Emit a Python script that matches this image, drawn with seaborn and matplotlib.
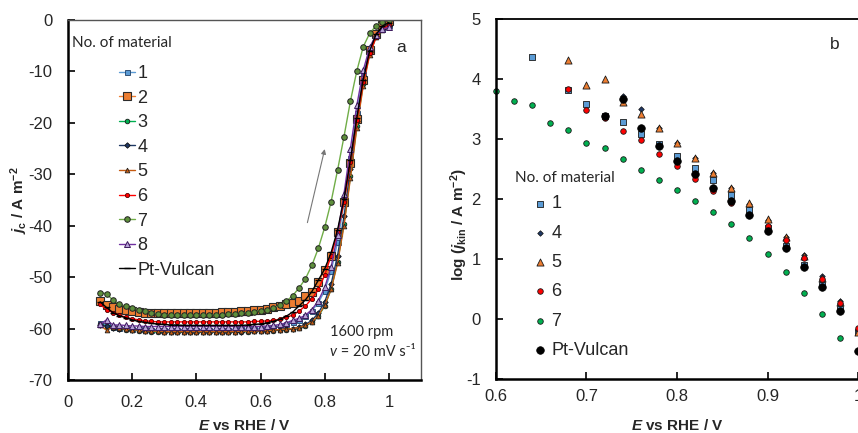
import numpy as np
import pandas as pd
import matplotlib
matplotlib.use("Agg")
import matplotlib.pyplot as plt
import seaborn as sns

# ---------------- data: panel a (LSV curves) ----------------
E_a = [0.10, 0.12, 0.14, 0.16, 0.18, 0.20, 0.22, 0.24, 0.26, 0.28,
       0.30, 0.32, 0.34, 0.36, 0.38, 0.40, 0.42, 0.44, 0.46, 0.48,
       0.50, 0.52, 0.54, 0.56, 0.58, 0.60, 0.62, 0.64, 0.66, 0.68,
       0.70, 0.72, 0.74, 0.76, 0.78, 0.80, 0.82, 0.84, 0.86, 0.88,
       0.90, 0.92, 0.94, 0.96, 0.98, 1.00]

j_1 = [-59.0, -59.3, -59.6, -59.8, -59.9, -60.0, -60.1, -60.1, -60.2, -60.2,
       -60.2, -60.2, -60.2, -60.2, -60.2, -60.2, -60.2, -60.2, -60.2, -60.2,
       -60.2, -60.1, -60.1, -60.1, -60.0, -60.0, -59.9, -59.7, -59.5, -59.2,
       -58.8, -58.3, -57.6, -56.5, -55.0, -52.6, -48.8, -43.2, -35.6, -26.8,
       -18.0, -10.8, -5.8, -3.0, -1.7, -1.0]
j_2 = [-54.6, -55.4, -55.9, -56.2, -56.4, -56.6, -56.8, -56.9, -57.0, -57.0,
       -57.0, -57.0, -57.0, -57.0, -57.0, -56.9, -56.9, -56.9, -56.9, -56.8,
       -56.8, -56.7, -56.6, -56.5, -56.4, -56.3, -56.1, -55.9, -55.6, -55.3,
       -55.0, -54.6, -53.7, -52.8, -51.0, -48.7, -45.8, -41.3, -35.4, -27.9,
       -19.2, -11.7, -5.9, -2.7, -0.9, -0.2]
j_3 = [-59.1, -59.6, -59.9, -60.1, -60.2, -60.3, -60.4, -60.5, -60.6, -60.7,
       -60.7, -60.7, -60.7, -60.7, -60.7, -60.7, -60.7, -60.7, -60.7, -60.7,
       -60.7, -60.7, -60.6, -60.6, -60.5, -60.5, -60.4, -60.4, -60.3, -60.2,
       -60.1, -59.9, -59.5, -58.8, -57.6, -55.6, -52.3, -47.0, -39.6, -30.4,
       -20.6, -12.4, -6.5, -3.3, -1.8, -1.1]
j_4 = [-59.3, -59.5, -59.8, -60.0, -60.1, -60.2, -60.3, -60.4, -60.5, -60.5,
       -60.6, -60.6, -60.6, -60.6, -60.6, -60.6, -60.6, -60.6, -60.6, -60.6,
       -60.6, -60.6, -60.6, -60.5, -60.5, -60.4, -60.4, -60.3, -60.2, -60.1,
       -60.0, -59.7, -59.2, -58.4, -57.0, -54.8, -51.3, -45.8, -38.2, -29.0,
       -19.6, -11.6, -6.2, -3.2, -1.8, -1.1]
j_5 = [-59.4, -60.3, -59.7, -59.9, -60.1, -60.2, -60.3, -60.4, -60.5, -60.5,
       -60.6, -60.6, -60.6, -60.6, -60.6, -60.6, -60.6, -60.6, -60.6, -60.6,
       -60.6, -60.6, -60.5, -60.5, -60.5, -60.4, -60.4, -60.3, -60.2, -60.1,
       -60.0, -59.8, -59.4, -58.7, -57.5, -55.5, -52.4, -47.3, -40.0, -30.8,
       -21.0, -12.8, -6.8, -3.4, -1.9, -1.2]
j_6 = [-55.3, -56.3, -56.9, -57.4, -57.8, -58.1, -58.3, -58.5, -58.6, -58.7,
       -58.7, -58.7, -58.7, -58.7, -58.7, -58.7, -58.7, -58.7, -58.7, -58.7,
       -58.7, -58.7, -58.7, -58.7, -58.6, -58.6, -58.5, -58.4, -58.2, -57.8,
       -57.4, -56.6, -55.6, -54.2, -52.4, -49.6, -45.8, -41.3, -35.4, -27.6,
       -19.4, -12.0, -6.5, -3.3, -1.8, -1.0]
j_7 = [-53.0, -53.2, -54.5, -55.2, -55.7, -56.0, -56.3, -56.6, -56.9, -57.1,
       -57.3, -57.4, -57.4, -57.4, -57.4, -57.4, -57.4, -57.4, -57.3, -57.3,
       -57.2, -57.1, -57.0, -56.9, -56.7, -56.5, -56.3, -56.0, -55.5, -54.7,
       -53.6, -52.1, -50.3, -47.7, -44.4, -40.3, -35.3, -29.2, -22.7, -15.8,
       -9.9, -5.2, -2.6, -1.1, -0.3, 0.0]
j_8 = [-59.2, -58.3, -59.3, -59.3, -59.4, -59.5, -59.5, -59.6, -59.6, -59.6,
       -59.6, -59.6, -59.6, -59.6, -59.6, -59.6, -59.6, -59.6, -59.6, -59.6,
       -59.6, -59.6, -59.6, -59.6, -59.6, -59.6, -59.5, -59.4, -59.2, -58.9,
       -58.4, -58.0, -57.4, -56.3, -54.6, -52.0, -48.0, -41.8, -33.8, -25.0,
       -16.6, -9.8, -5.3, -2.9, -1.8, -1.4]
j_pt = [-54.8, -55.9, -56.9, -57.5, -57.9, -58.3, -58.6, -58.8, -59.0, -59.1,
        -59.2, -59.3, -59.3, -59.4, -59.4, -59.4, -59.4, -59.4, -59.4, -59.4,
        -59.4, -59.4, -59.4, -59.3, -59.2, -59.1, -58.9, -58.6, -58.2, -57.6,
        -56.8, -55.6, -54.4, -52.8, -50.6, -48.4, -45.2, -40.8, -34.8, -27.2,
        -19.0, -11.6, -6.0, -2.8, -1.2, -0.5]

series_a = ["1", "2", "3", "4", "5", "6", "7", "8", "Pt-Vulcan"]
values_a = [j_1, j_2, j_3, j_4, j_5, j_6, j_7, j_8, j_pt]

# ---------------- data: panel b (log j_kin) ----------------
nan = np.nan
E_b = [0.60, 0.62, 0.64, 0.66, 0.68, 0.70, 0.72, 0.74, 0.76, 0.78,
       0.80, 0.82, 0.84, 0.86, 0.88, 0.90, 0.92, 0.94, 0.96, 0.98, 1.00]
L_1 = [nan, nan, 4.36, nan, 3.81, 3.58, 3.38, 3.28, 3.08, 2.92,
       2.72, 2.51, 2.31, 2.07, 1.82, 1.51, 1.22, 0.90, 0.57, 0.17, -0.22]
L_4 = [nan, nan, nan, nan, nan, nan, nan, 3.72, 3.50, 3.18,
       2.93, 2.68, 2.43, 2.18, 1.92, 1.65, 1.37, 1.06, 0.71, 0.30, -0.18]
L_5 = [nan, nan, nan, nan, 4.31, 3.90, 4.00, 3.61, 3.41, 3.18,
       2.94, 2.69, 2.44, 2.19, 1.93, 1.66, 1.36, 1.05, 0.68, 0.29, -0.21]
L_6 = [nan, nan, nan, nan, 3.84, 3.48, 3.35, 3.14, 2.98, 2.75,
       2.55, 2.33, 2.14, 1.94, 1.74, 1.55, 1.32, 1.01, 0.66, 0.27, -0.15]
L_7 = [3.80, 3.64, 3.57, 3.26, 3.15, 2.94, 2.85, 2.66, 2.49, 2.31,
       2.15, 1.97, 1.79, 1.58, 1.35, 1.09, 0.78, 0.44, 0.08, -0.31, nan]
L_pt = [nan, nan, nan, nan, nan, nan, 3.38, 3.67, 3.18, 2.89,
        2.64, 2.42, 2.19, 1.96, 1.73, 1.47, 1.18, 0.87, 0.53, 0.14, -0.53]

series_b = ["1", "4", "5", "6", "7", "Pt-Vulcan"]
values_b = [L_1, L_4, L_5, L_6, L_7, L_pt]

# tick labels
xticks_a = [0, 0.2, 0.4, 0.6, 0.8, 1.0]
xticklabels_a = ["0", "0.2", "0.4", "0.6", "0.8", "1"]
yticks_a = [0, -10, -20, -30, -40, -50, -60, -70]
xticks_b = [0.6, 0.7, 0.8, 0.9, 1.0]
xticklabels_b = ["0.6", "0.7", "0.8", "0.9", "1"]
yticks_b = [-1, 0, 1, 2, 3, 4, 5]

# ---------------- styles ----------------
style_a = {
    "1": dict(color="#5B9BD5", marker="s", ms=3.6, mfc="#5B9BD5", mec="#1F3F66", mew=0.6),
    "2": dict(color="#ED7D31", marker="s", ms=5.5, mfc="#ED7D31", mec="#2B2B2B", mew=0.8),
    "3": dict(color="#00B050", marker="o", ms=3.3, mfc="#00B050", mec="#1A1A1A", mew=0.6),
    "4": dict(color="#1F3864", marker="D", ms=2.8, mfc="#1F3864", mec="#111111", mew=0.6),
    "5": dict(color="#C55A11", marker="^", ms=3.4, mfc="#C55A11", mec="#222222", mew=0.6),
    "6": dict(color="#FF0000", marker="o", ms=3.0, mfc="#FF0000", mec="#550000", mew=0.6),
    "7": dict(color="#70AD47", marker="o", ms=4.0, mfc="#5E8F3C", mec="#222222", mew=0.7),
    "8": dict(color="#7030A0", marker="^", ms=4.0, mfc="#B7A3D8", mec="#3D1A5C", mew=0.7),
    "Pt-Vulcan": dict(color="black", marker="_", ms=4.5, mfc="black", mec="black", mew=1.0),
}
style_b = {
    "1": dict(color="#5B9BD5", marker="s", s=18, edgecolor="#1A1A1A", linewidth=0.6),
    "4": dict(color="#1F3864", marker="D", s=8, edgecolor="#111111", linewidth=0.5),
    "5": dict(color="#ED7D31", marker="^", s=26, edgecolor="#1A1A1A", linewidth=0.6),
    "6": dict(color="#FF0000", marker="o", s=16, edgecolor="#1A1A1A", linewidth=0.6),
    "7": dict(color="#00B050", marker="o", s=16, edgecolor="#1A1A1A", linewidth=0.6),
    "Pt-Vulcan": dict(color="black", marker="o", s=30, edgecolor="black", linewidth=0.5),
}

# ---------------- figure ----------------
sns.set_style("ticks")
plt.rcParams["font.family"] = ["Liberation Sans", "DejaVu Sans"]
plt.rcParams["axes.unicode_minus"] = False
plt.rcParams["mathtext.fontset"] = "custom"
plt.rcParams["mathtext.rm"] = "Liberation Sans:bold"
plt.rcParams["mathtext.bf"] = "Liberation Sans:bold"
plt.rcParams["mathtext.it"] = "Liberation Sans:italic:bold"
plt.rcParams["mathtext.sf"] = "Liberation Sans:bold"

CAL = ["Lato", "DejaVu Sans"]

fig = plt.figure(figsize=(8.58, 4.33), dpi=100)
ax1 = fig.add_axes([68 / 858, 53 / 433, 353 / 858, 360 / 433])
ax2 = fig.add_axes([496 / 858, 54 / 433, 362 / 858, 360 / 433])

# ---------- panel a ----------
for name, vals in zip(series_a, values_a):
    df = pd.DataFrame({"E": E_a, "j": vals})
    sns.lineplot(data=df, x="E", y="j", ax=ax1, label=name, lw=1.0,
                 errorbar=None, **style_a[name])

ax1.set_xlim(0, 1.1)
ax1.set_ylim(-70, 0)
ax1.set_xticks(xticks_a)
ax1.set_xticklabels(xticklabels_a)
ax1.set_yticks(yticks_a)
ax1.set_xlabel(r"$E$ vs RHE / V", fontsize=11, fontweight="bold")
ax1.set_ylabel(r"$j_\mathrm{c}$ / A m$^{-2}$", fontsize=11, fontweight="bold")
ax1.xaxis.set_label_coords(0.5, -0.105)
ax1.yaxis.set_label_coords(-0.108, 0.5)

for sp in ["left", "bottom"]:
    ax1.spines[sp].set_linewidth(1.8)
    ax1.spines[sp].set_color("black")
for sp in ["top", "right"]:
    ax1.spines[sp].set_visible(True)
    ax1.spines[sp].set_linewidth(1.0)
    ax1.spines[sp].set_color("#555555")
ax1.tick_params(axis="both", direction="in", length=5, width=1.2, color="black",
                labelsize=12, pad=11)

handles, labels = ax1.get_legend_handles_labels()
ax1.legend(handles, labels, loc="upper left", bbox_to_anchor=(0.145, 0.875),
           frameon=False, fontsize=13, handlelength=0.85, handletextpad=0.15,
           labelspacing=0.42, borderpad=0, borderaxespad=0)
ax1.text(0.012, 0.936, "No. of material", transform=ax1.transAxes, fontsize=11,
         family=CAL, va="center", ha="left")
ax1.text(0.945, 0.924, "a", transform=ax1.transAxes, fontsize=12.5, ha="center", va="center")

arrow_tail = (0.746, -39.4)
arrow_head = (0.800, -25.1)
ax1.annotate("", xy=arrow_head, xytext=arrow_tail,
             arrowprops=dict(arrowstyle="-|>", color="#777777", lw=0.8, mutation_scale=7,
                             shrinkA=0, shrinkB=0))
ax1.text(0.742, 0.133, "1600 rpm", transform=ax1.transAxes, fontsize=10.5,
         family=CAL, va="center", ha="left")
vtxt = ax1.text(0.742, 0.078, "v", transform=ax1.transAxes, fontsize=10.5,
                family=CAL, style="italic", va="center", ha="left")
ax1.annotate(" = 20 mV s\u207b\u00b9", xy=(1, 0.5), xycoords=vtxt, fontsize=10.5,
             family=CAL, va="center", ha="left")

# ---------- panel b ----------
for name, vals in zip(series_b, values_b):
    df = pd.DataFrame({"E": E_b, "L": vals}).dropna()
    sns.scatterplot(data=df, x="E", y="L", ax=ax2, label=name, clip_on=False,
                    **style_b[name])

ax2.set_xlim(0.6, 1.0)
ax2.set_ylim(-1, 5)
ax2.set_xticks(xticks_b)
ax2.set_xticklabels(xticklabels_b)
ax2.set_yticks(yticks_b)
ax2.set_xlabel(r"$E$ vs RHE / V", fontsize=11, fontweight="bold")
ax2.set_ylabel(r"log ($j_\mathrm{kin}$ / A m$^{-2}$)", fontsize=11, fontweight="bold")
ax2.xaxis.set_label_coords(0.5, -0.108)
ax2.yaxis.set_label_coords(-0.072, 0.43)
for sp in ["left", "bottom"]:
    ax2.spines[sp].set_linewidth(1.8)
    ax2.spines[sp].set_color("black")
ax2.spines["top"].set_visible(True)
ax2.spines["top"].set_linewidth(1.3)
ax2.spines["top"].set_color("black")
ax2.spines["right"].set_visible(False)
ax2.tick_params(axis="both", direction="in", length=5, width=1.2, color="black",
                labelsize=12)
ax2.tick_params(axis="y", pad=11)
ax2.tick_params(axis="x", pad=7)

handles, labels = ax2.get_legend_handles_labels()
ax2.legend(handles, labels, loc="upper left", bbox_to_anchor=(0.11, 0.51),
           frameon=False, fontsize=13, handlelength=0.5, handletextpad=0.35,
           labelspacing=0.68, borderpad=0, borderaxespad=0)
ax2.text(0.052, 0.558, "No. of material", transform=ax2.transAxes, fontsize=11,
         family=CAL, va="center", ha="left")
ax2.text(0.935, 0.93, "b", transform=ax2.transAxes, fontsize=12.5, ha="center", va="center")

fig.savefig("out.png", dpi=100)
